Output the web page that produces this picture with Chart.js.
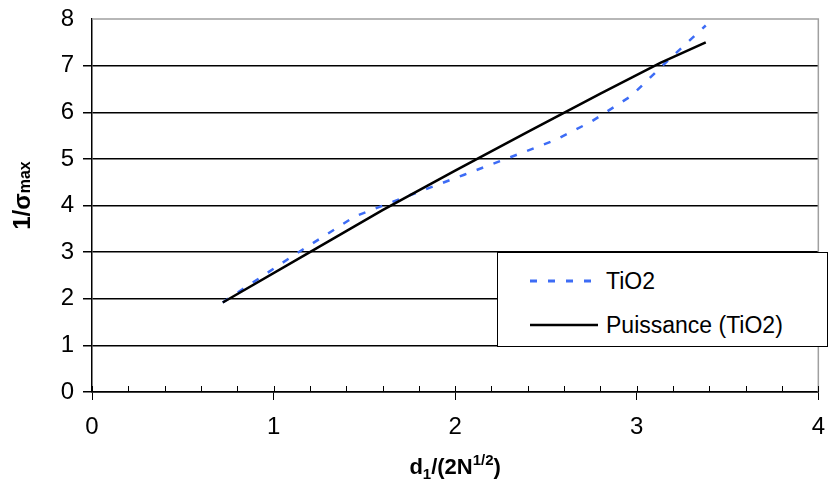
<!DOCTYPE html>
<html>
<head>
<meta charset="utf-8">
<script src="https://cdn.jsdelivr.net/npm/chart.js@4"></script>
<style>
  body { margin: 0; background: #fff; }
  #wrap { position: relative; width: 838px; height: 486px; }
  #legend {
    position: absolute; left: 497px; top: 252px; width: 329px; height: 93px;
    border: 1px solid #000; background: #fff;
    font-family: "Liberation Sans", Arial, sans-serif; font-size: 23px; color: #000;
  }
  #legend .row { position: absolute; left: 32px; height: 30px; display: flex; align-items: center; }
  #legend svg { margin-right: 8px; }
</style>
</head>
<body>
<div id="wrap">
  <canvas id="chart" width="838" height="486"></canvas>
  <div id="legend"></div>
</div>
<script>
// mesures TiO2
const xTiO2 = [0.72, 1.13, 1.45, 1.75, 2.05, 2.3, 2.55, 2.75, 2.97, 3.15, 3.38];
const yTiO2 = [1.92, 2.98, 3.77, 4.22, 4.66, 5.03, 5.40, 5.80, 6.35, 7.03, 7.86];

// courbe de tendance puissance
const xPuiss = [0.72, 1.2, 1.6, 2.0, 2.4, 2.8, 3.13, 3.38];
const yPuiss = [1.92, 3.0, 3.9, 4.75, 5.58, 6.4, 7.06, 7.5];

const xTicks = [0, 1, 2, 3, 4];
const yTicks = [0, 1, 2, 3, 4, 5, 6, 7, 8];
const seriesNames = ['TiO2', 'Puissance (TiO2)'];

const FONT = '"Liberation Sans", Arial, sans-serif';
const BLUE = '#3d6cf5';

const toPoints = (xs, ys) => xs.map((x, i) => ({ x: x, y: ys[i] }));

// axes titles, minor ticks, right border
const extras = {
  id: 'extras',
  afterDraw(chart) {
    const { ctx, chartArea, scales } = chart;
    const xs = scales.x;
    ctx.save();
    // bordure droite et haute grises
    ctx.strokeStyle = '#a0a0a0';
    ctx.lineWidth = 1.5;
    ctx.beginPath();
    ctx.moveTo(chartArea.left, chartArea.top);
    ctx.lineTo(chartArea.right, chartArea.top);
    ctx.lineTo(chartArea.right, chartArea.bottom);
    ctx.stroke();
    // petites graduations
    ctx.strokeStyle = '#000';
    ctx.lineWidth = 1;
    for (let v = 0; v <= xTicks[xTicks.length - 1] + 1e-9; v += 0.2) {
      const px = Math.round(xs.getPixelForValue(v)) + 0.5;
      ctx.beginPath();
      ctx.moveTo(px, chartArea.bottom);
      ctx.lineTo(px, chartArea.bottom - 6);
      ctx.stroke();
    }
    // titre axe x : d1/(2N^1/2)
    ctx.fillStyle = '#000';
    ctx.textBaseline = 'alphabetic';
    const big = 'bold 22px ' + FONT, small = 'bold 15px ' + FONT;
    const parts = [['d', big, 0], ['1', small, 5], ['/(2N', big, 0], ['1/2', small, -9], [')', big, 0]];
    let total = 0;
    parts.forEach(p => { ctx.font = p[1]; total += ctx.measureText(p[0]).width; });
    let cx = (chartArea.left + chartArea.right) / 2 - total / 2;
    const by = 474;
    parts.forEach(p => {
      ctx.font = p[1];
      ctx.fillText(p[0], cx, by + p[2]);
      cx += ctx.measureText(p[0]).width;
    });
    // titre axe y : 1/σmax
    ctx.translate(30, (chartArea.top + chartArea.bottom) / 2 - 10);
    ctx.rotate(-Math.PI / 2);
    const yparts = [['1/σ', 'bold 24px ' + FONT, 0], ['max', 'bold 16px ' + FONT, 0]];
    total = 0;
    yparts.forEach(p => { ctx.font = p[1]; total += ctx.measureText(p[0]).width; });
    cx = -total / 2;
    yparts.forEach(p => {
      ctx.font = p[1];
      ctx.fillText(p[0], cx, p[2]);
      cx += ctx.measureText(p[0]).width;
    });
    ctx.restore();
  }
};

new Chart(document.getElementById('chart'), {
  type: 'scatter',
  data: {
    datasets: [
      {
        label: seriesNames[0],
        data: toPoints(xTiO2, yTiO2),
        showLine: true,
        borderColor: BLUE,
        borderWidth: 2.5,
        borderDash: [7, 11],
        pointRadius: 0,
        order: 1
      },
      {
        label: seriesNames[1],
        data: toPoints(xPuiss, yPuiss),
        showLine: true,
        borderColor: '#000',
        borderWidth: 2.5,
        pointRadius: 0,
        order: 0
      }
    ]
  },
  options: {
    responsive: false,
    animation: false,
    events: [],
    layout: { padding: { top: 19, right: 11, left: 0, bottom: 0 } },
    plugins: { legend: { display: false }, tooltip: { enabled: false } },
    scales: {
      x: {
        type: 'linear',
        min: xTicks[0],
        max: xTicks[xTicks.length - 1],
        afterBuildTicks: s => { s.ticks = xTicks.map(v => ({ value: v })); },
        afterFit: s => { s.height = 94; },
        ticks: { color: '#000', font: { family: FONT, size: 24 }, padding: 13 },
        grid: { drawOnChartArea: false, drawTicks: true, tickLength: 8, color: '#000', lineWidth: 1 },
        border: { color: '#000', width: 1.5 }
      },
      y: {
        min: yTicks[0],
        max: yTicks[yTicks.length - 1],
        afterBuildTicks: s => { s.ticks = yTicks.map(v => ({ value: v })); },
        afterFit: s => { s.width = 92; s.paddingTop = 0; s.paddingBottom = 0; },
        ticks: { color: '#000', font: { family: FONT, size: 24, lineHeight: 1 }, padding: 9 },
        grid: {
          color: c => (c.tick && c.tick.value === 8 ? 'rgba(0,0,0,0)' : '#000'),
          lineWidth: 1.5,
          tickLength: 9
        },
        border: { color: '#000', width: 1.5 }
      }
    }
  },
  plugins: [extras]
});

// légende HTML dans la zone de tracé
const legend = document.getElementById('legend');
legend.innerHTML = `
  <div class="row" style="top:13px">
    <svg width="68" height="6"><line x1="0" y1="3" x2="68" y2="3" stroke="${BLUE}" stroke-width="3" stroke-dasharray="7 11"/></svg>
    <span>${seriesNames[0]}</span>
  </div>
  <div class="row" style="top:57px">
    <svg width="68" height="6"><line x1="0" y1="3" x2="68" y2="3" stroke="#000" stroke-width="2.5"/></svg>
    <span>${seriesNames[1]}</span>
  </div>`;
</script>
</body>
</html>
